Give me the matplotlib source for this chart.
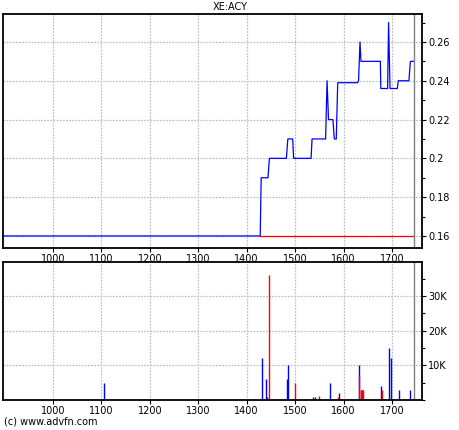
import numpy as np
import matplotlib
matplotlib.use("Agg")
import matplotlib.pyplot as plt
from matplotlib.ticker import MultipleLocator, FuncFormatter

# price trace (time index, price)
priceX = [897, 1428, 1430, 1444, 1447, 1482, 1485, 1495, 1497, 1533, 1535, 1563,
          1566, 1569, 1578, 1581, 1585, 1588, 1629, 1631, 1634, 1636, 1676, 1677,
          1691, 1693, 1696, 1711, 1713, 1735, 1738, 1744]
priceY = [0.16, 0.16, 0.19, 0.19, 0.20, 0.20, 0.21, 0.21, 0.20, 0.20, 0.21, 0.21,
          0.24, 0.22, 0.22, 0.21, 0.21, 0.239, 0.239, 0.24, 0.26, 0.25, 0.25, 0.236,
          0.236, 0.27, 0.236, 0.236, 0.24, 0.24, 0.25, 0.25]
prevX = [1428, 1744]
prevY = [0.16, 0.16]

# volume bars
blueX = [1105, 1431, 1440, 1442, 1484, 1486, 1537, 1541, 1572, 1590, 1631, 1677,
         1693, 1697, 1714, 1738]
blueV = [5000, 12000, 6000, 1000, 6000, 10000, 1000, 1000, 5000, 2000, 10000, 4000,
         15000, 12000, 3000, 3000]
redX = [1446, 1500, 1549, 1588, 1631, 1636, 1637, 1638, 1639, 1640, 1679]
redV = [36000, 5000, 1200, 1000, 7000, 3000, 3000, 3000, 3000, 3000, 3000]

xticks = [1000, 1100, 1200, 1300, 1400, 1500, 1600, 1700]
xlim = (897, 1762)
nowX = 1745
gridc = "#bcc4c4"

f = plt.figure(figsize=(4.6, 4.3), dpi=100)
ax1 = f.add_axes([3/460, 1-248/430, 419/460, 234/430])
ax2 = f.add_axes([3/460, 1-400/430, 419/460, 138/430])

for ax in [ax1, ax2]:
    ax.set_xlim(xlim)
    ax.set_xticks(xticks)
    ax.grid(True, color=gridc, lw=0.9, ls=(0, (1.5, 1)))
    ax.axvline(nowX, color="#808080", lw=1)
    ax.yaxis.tick_right()
    ax.tick_params(axis="both", labelsize=7, length=3, width=0.8, pad=1.5)
    ax.tick_params(axis="y", which="minor", length=2, width=0.8)
    for sp in ax.spines.values():
        sp.set_linewidth(1.3)
    ax.set_axisbelow(True)

ax1.plot(priceX, priceY, color="#0000ff", lw=0.9)
ax1.plot(prevX, prevY, color="#ff0000", lw=0.9)
ax1.set_ylim(0.1538, 0.2744)
ax1.yaxis.set_major_locator(MultipleLocator(0.02))
ax1.yaxis.set_minor_locator(MultipleLocator(0.01))
ax1.yaxis.set_major_formatter(FuncFormatter(lambda v, p: "%g" % round(v, 2)))

ax2.vlines(blueX, 0, blueV, color="#0000ff", lw=1.0)
ax2.vlines(redX, 0, redV, color="#ff0000", lw=1.0)
ax2.set_ylim(0, 39800)
ax2.set_yticks([10000, 20000, 30000])
ax2.yaxis.set_minor_locator(MultipleLocator(5000))
ax2.yaxis.set_major_formatter(FuncFormatter(lambda v, p: "%dK" % (v/1000)))

f.text(230/460, 1-7/430, "XE:ACY", ha="center", va="center", fontsize=7)
f.text(4/460, 1-422/430, "(c) www.advfn.com", ha="left", va="center", fontsize=7)

f.savefig("out.png", dpi=100)
